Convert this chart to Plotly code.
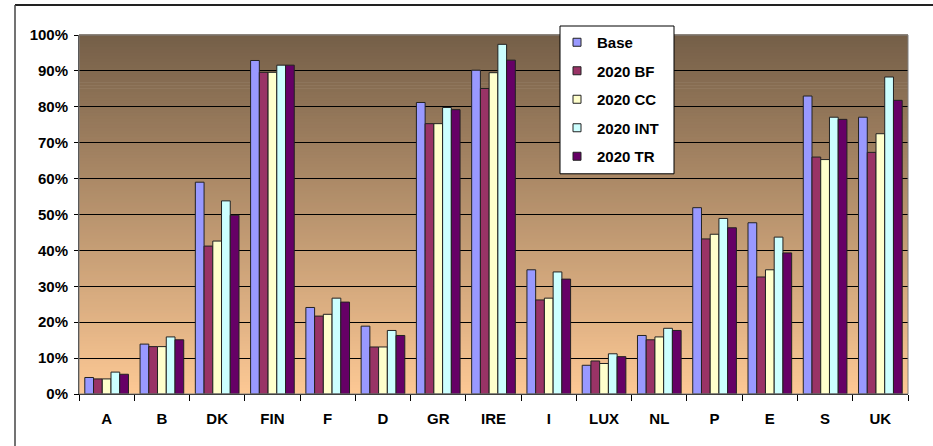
import plotly.graph_objects as go

# countries on the x axis
countries = ["A", "B", "DK", "FIN", "F", "D", "GR", "IRE", "I", "LUX", "NL", "P", "E", "S", "UK"]

# shares in % per scenario
base = [4.6, 13.9, 59.0, 92.9, 24.1, 18.9, 81.2, 90.2, 34.6, 8.0, 16.3, 51.9, 47.7, 83.0, 77.1]
bf_2020 = [4.2, 13.2, 41.2, 89.6, 21.7, 13.1, 75.3, 85.1, 26.2, 9.2, 15.1, 43.2, 32.6, 66.0, 67.3]
cc_2020 = [4.2, 13.2, 42.6, 89.6, 22.2, 13.1, 75.3, 89.5, 26.7, 8.5, 15.9, 44.5, 34.6, 65.3, 72.5]
int_2020 = [6.1, 15.9, 53.8, 91.6, 26.7, 17.7, 79.8, 97.4, 34.0, 11.2, 18.3, 48.9, 43.7, 77.1, 88.3]
tr_2020 = [5.5, 15.1, 49.8, 91.6, 25.6, 16.3, 79.2, 93.0, 32.0, 10.4, 17.7, 46.3, 39.3, 76.5, 81.8]

series = [
    ("Base", base, "#9999FF"),
    ("2020 BF", bf_2020, "#993366"),
    ("2020 CC", cc_2020, "#FFFFCC"),
    ("2020 INT", int_2020, "#CCFFFF"),
    ("2020 TR", tr_2020, "#660066"),
]

FONT = "Arial, Liberation Sans, sans-serif"
W, H = 933, 446
ML, MR, MT, MB = 79, 25, 35, 51.5
PW, PH = W - ML - MR, H - MT - MB


def px_x(p):
    # pixel -> paper x
    return (p - ML) / PW


def px_y(p):
    # pixel -> paper y
    return (H - MB - p) / PH


fig = go.Figure()

for name, vals, col in series:
    fig.add_trace(go.Bar(
        x=countries, y=vals, name=name, legendgroup=name,
        marker=dict(color=col, line=dict(color="#222222", width=1)),
        showlegend=False,
    ))
    # small square legend key like the excel original
    fig.add_trace(go.Scatter(
        x=[None], y=[None], mode="markers", name=name, legendgroup=name,
        marker=dict(symbol="square", size=8, color=col, line=dict(color="#222222", width=1)),
    ))

# brown gradient behind the plot area (dark top -> light peach bottom)
top_rgb = (117, 95, 72)
bot_rgb = (252, 200, 148)
n = 120
for i in range(n):
    t = i / (n - 1)
    c = tuple(round(bot_rgb[k] + (top_rgb[k] - bot_rgb[k]) * t) for k in range(3))
    fig.add_shape(type="rect", xref="x domain", yref="y domain",
                  x0=0, x1=1, y0=i / n, y1=(i + 1) / n + 0.002,
                  fillcolor="rgb(%d,%d,%d)" % c, line_width=0, layer="below")

# grey plot area frame
fig.add_shape(type="rect", xref="x domain", yref="y domain", x0=0, x1=1, y0=0, y1=1,
              line=dict(color="#808080", width=1), layer="above")

# outer chart frame (only top and left are visible in the window)
fig.add_shape(type="line", xref="paper", yref="paper", x0=px_x(15), x1=px_x(960), y0=px_y(5), y1=px_y(5),
              line=dict(color="#222222", width=2))
fig.add_shape(type="line", xref="paper", yref="paper", x0=px_x(15), x1=px_x(15), y0=px_y(470), y1=px_y(5),
              line=dict(color="#444444", width=1.5))

# legend box
fig.add_shape(type="rect", xref="paper", yref="paper", x0=px_x(560), x1=px_x(674), y0=px_y(174), y1=px_y(26),
              fillcolor="white", line=dict(color="black", width=1), layer="above")

fig.update_layout(
    width=W, height=H,
    margin=dict(l=ML, r=MR, t=MT, b=MB),
    paper_bgcolor="white",
    plot_bgcolor="rgba(0,0,0,0)",
    barmode="group", bargap=0.21, bargroupgap=0,
    font=dict(family=FONT, size=15, color="black", weight="bold"),
    legend=dict(
        x=px_x(557), y=px_y(26), xanchor="left", yanchor="top",
        bgcolor="rgba(0,0,0,0)", borderwidth=0,
        traceorder="grouped", tracegroupgap=6, itemwidth=30,
        font=dict(family=FONT, size=15, color="black", weight="bold"),
    ),
    showlegend=True,
)

fig.update_xaxes(
    showline=True, linecolor="black", linewidth=1,
    ticks="outside", tickson="boundaries", ticklen=6, tickcolor="black",
    ticklabelstandoff=11,
    showgrid=False,
)
fig.update_yaxes(
    range=[0, 100], dtick=10, ticksuffix="%",
    showline=True, linecolor="#333333", linewidth=1,
    ticks="outside", ticklen=4, tickcolor="black",
    showgrid=True, gridcolor="black", gridwidth=1,
    zeroline=False, ticklabelstandoff=3,
)

fig.write_html("out.html", config={"displayModeBar": False},
               post_script="document.body.style.margin='0';")
